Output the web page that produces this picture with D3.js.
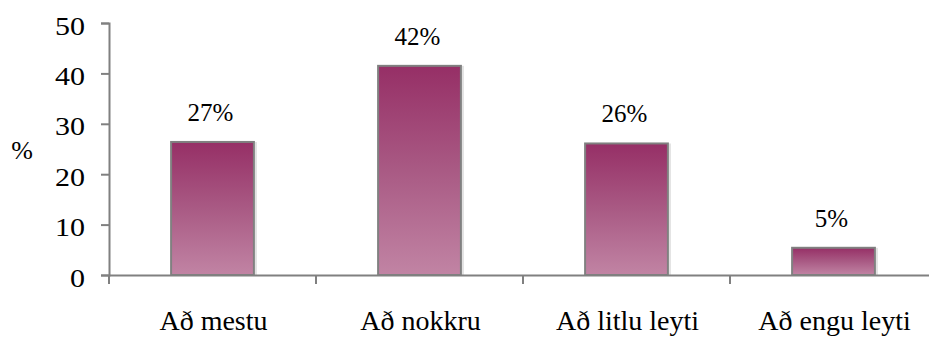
<!DOCTYPE html>
<html><head><meta charset="utf-8">
<script src="https://cdn.jsdelivr.net/npm/d3@7"></script>
<style>body{margin:0;background:#fff}</style>
</head><body>
<svg id="c" width="929" height="338"></svg>
<script>
const categories = ["Að mestu", "Að nokkru", "Að litlu leyti", "Að engu leyti"];
const values = [26.4, 41.5, 26.1, 5.4];
const valueLabels = ["27%", "42%", "26%", "5%"];
const yTicks = [0, 10, 20, 30, 40, 50];
const yTitle = "%";

const FONT = "Liberation Serif";
const svg = d3.select("#c");
const x0 = 109, x1 = 937, yBase = 275, yTop = 23;
const x = d3.scaleBand().domain(categories).range([x0, x1]).paddingInner(0.6).paddingOuter(0.3);
const xb = d3.scaleBand().domain(categories).range([x0, x1]);
const y = d3.scaleLinear().domain([0, 50]).range([yBase, yTop]);

const defs = svg.append("defs");
const g = defs.append("linearGradient").attr("id", "grad").attr("x1", 0).attr("y1", 0).attr("x2", 0).attr("y2", 1);
g.append("stop").attr("offset", "0%").attr("stop-color", "#962f66");
g.append("stop").attr("offset", "50%").attr("stop-color", "#a95a84");
g.append("stop").attr("offset", "100%").attr("stop-color", "#c184a4");

// light shadow strip at right of bars
svg.selectAll("rect.sh").data(values).join("rect").attr("class", "sh")
  .attr("x", (d, i) => x(categories[i]) + x.bandwidth() + 1)
  .attr("y", d => y(d))
  .attr("width", 2)
  .attr("height", d => yBase - y(d))
  .attr("fill", "#e2e2e2");

svg.selectAll("rect.bar").data(values).join("rect").attr("class", "bar")
  .attr("x", (d, i) => x(categories[i]))
  .attr("y", d => y(d))
  .attr("width", x.bandwidth())
  .attr("height", d => yBase - y(d))
  .attr("fill", "url(#grad)")
  .attr("stroke", "#808080").attr("stroke-width", 2);

svg.selectAll("text.vl").data(values).join("text").attr("class", "vl")
  .attr("x", (d, i) => x(categories[i]) + x.bandwidth() / 2 - 2)
  .attr("y", d => y(d) - 21)
  .attr("text-anchor", "middle")
  .attr("font-family", FONT).attr("font-size", 25).attr("fill", "#000")
  .text((d, i) => valueLabels[i]);

const ya = svg.append("g").attr("transform", `translate(${x0},0)`)
  .call(d3.axisLeft(y).tickValues(yTicks).tickSize(8).tickPadding(8));
ya.select(".domain").attr("stroke", "#808080").attr("stroke-width", 2);
ya.selectAll(".tick line").attr("stroke", "#808080").attr("stroke-width", 2);
ya.selectAll(".tick text")
  .attr("x", 0).attr("dy", "0.4em")
  .attr("transform", "translate(-24,1) scale(1.2,1)")
  .attr("font-family", FONT).attr("font-size", 25).attr("fill", "#000");

const xa = svg.append("g").attr("transform", `translate(0,${yBase})`)
  .call(d3.axisBottom(xb).tickSize(0).tickFormat(""));
xa.select(".domain").attr("stroke", "#808080").attr("stroke-width", 2);
xa.selectAll(".tick").remove();
const bounds = categories.map(c => xb(c)).concat([x1]);
xa.selectAll("line.bt").data(bounds).join("line").attr("class", "bt")
  .attr("x1", d => d).attr("x2", d => d).attr("y1", 0).attr("y2", 9)
  .attr("stroke", "#808080").attr("stroke-width", 2);

svg.selectAll("text.cl").data(categories).join("text").attr("class", "cl")
  .attr("x", d => x(d) + x.bandwidth() / 2 + 1)
  .attr("y", 330)
  .attr("text-anchor", "middle")
  .attr("font-family", FONT).attr("font-size", 28).attr("fill", "#000")
  .text(d => d);

svg.append("text").attr("x", 22).attr("y", 159).attr("text-anchor", "middle")
  .attr("font-family", FONT).attr("font-size", 26).attr("fill", "#000").text(yTitle);
</script>
</body></html>
